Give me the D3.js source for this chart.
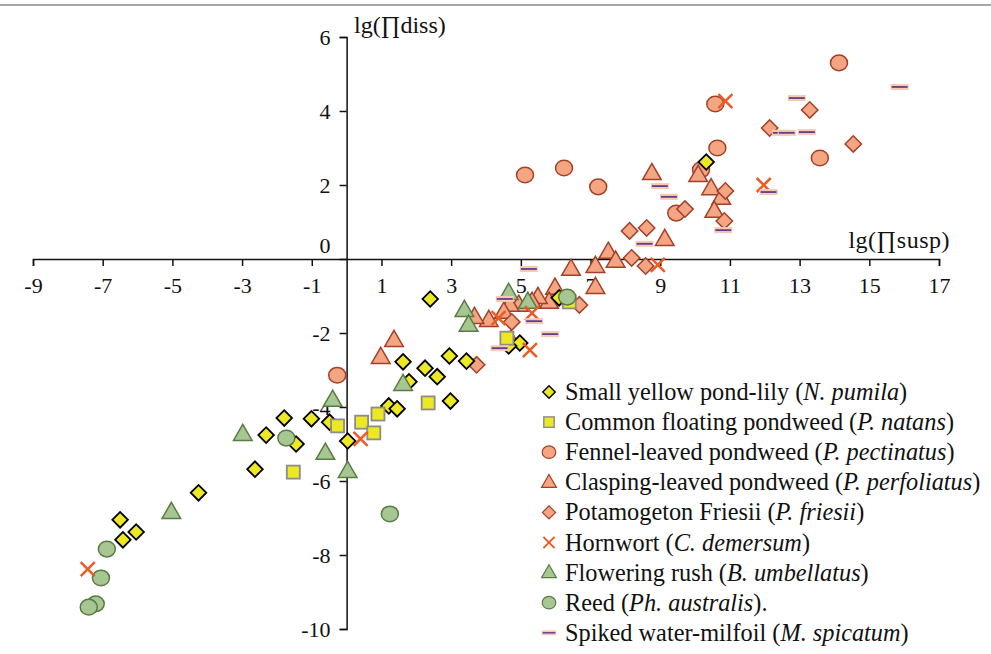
<!DOCTYPE html>
<html>
<head>
<meta charset="utf-8">
<script src="https://cdn.jsdelivr.net/npm/d3@7"></script>
<style>
  body { margin: 0; background: #fff; }
  svg text { font-family: "Liberation Serif", "Times New Roman", serif; fill: #111; }
</style>
</head>
<body>
<div id="main"></div>
<script>
// Data: [lg(Πsusp), lg(Πdiss)]
const pondLily = [[2.40,-1.08],[10.32,2.62],[4.97,-2.27],[4.65,-2.35],[6.10,-1.05],[1.62,-2.78],[2.25,-2.95],[2.60,-3.18],
  [2.95,-2.62],[3.44,-2.76],[1.79,-3.32],[2.98,-3.84],[1.21,-3.97],[1.45,-4.05],[0.03,-4.92],[-1.79,-4.30],[-1.01,-4.32],
  [-0.49,-4.41],[-2.31,-4.76],[-1.45,-5.00],[-2.63,-5.68],[-4.25,-6.32],[-6.50,-7.05],[-6.04,-7.38],[-6.42,-7.59]];
const floatingPondweed = [[4.60,-2.14],[2.34,-3.89],[0.90,-4.19],[0.43,-4.41],[0.78,-4.70],[-0.26,-4.51],[-1.53,-5.76],[6.39,-1.16]];
const fennelPondweed = [[5.12,2.27],[6.24,2.46],[7.22,1.95],[10.58,4.19],[10.64,3.00],[10.17,2.41],[9.46,1.24],[14.13,5.30],
  [13.58,2.73],[-0.27,-3.14]];
const claspingPondweed = [[8.76,2.32],[10.09,2.27],[10.46,1.91],[10.75,1.65],[10.55,1.30],[9.13,0.54],[7.51,0.19],[7.72,-0.05],
  [7.14,-0.19],[6.44,-0.27],[7.14,-0.76],[5.98,-0.78],[5.81,-1.16],[5.49,-1.03],[5.32,-1.16],[4.94,-1.24],[4.68,-1.24],
  [4.51,-1.43],[4.08,-1.65],[3.67,-1.57],[4.71,-2.19],[1.36,-2.19],[0.98,-2.65]];
const friesii = [[13.29,4.03],[12.14,3.54],[14.54,3.11],[10.87,1.84],[10.84,1.03],[9.71,1.35],[8.61,0.84],[8.12,0.76],
  [8.18,0.03],[8.58,-0.19],[6.68,-1.24],[4.74,-1.70],[3.73,-2.86]];
const hornwort = [[10.87,4.27],[11.97,2.00],[8.93,-0.16],[4.36,-1.60],[5.32,-1.46],[5.26,-2.46],[0.40,-4.86],[-7.43,-8.38]];
const floweringRush = [[4.65,-0.92],[5.20,-1.16],[3.38,-1.38],[3.50,-1.78],[1.62,-3.38],[-0.40,-3.81],[-2.98,-4.73],
  [-0.61,-5.24],[0.03,-5.73],[-5.03,-6.84]];
const reed = [[6.33,-1.03],[-1.73,-4.84],[1.24,-6.89],[-6.88,-7.84],[-7.05,-8.62],[-7.20,-9.32],[-7.40,-9.41]];
const waterMilfoil = [[15.87,4.65],[12.92,4.35],[12.46,3.41],[12.63,3.41],[13.21,3.43],[12.11,1.81],[10.81,0.78],[8.99,1.97],
  [9.25,1.68],[8.55,0.41],[5.23,-0.27],[4.54,-1.08],[5.38,-1.68],[5.84,-2.03],[4.39,-2.41]];

const xTicks = [-9,-7,-5,-3,-1,1,3,5,7,9,11,13,15,17];
const yTicks = [6,4,2,0,-2,-4,-6,-8,-10];

const legendItems = [
  ['Small yellow pond-lily (', 'N. pumila', ')', 'lily'],
  ['Common floating pondweed (', 'P. natans', ')', 'natans'],
  ['Fennel-leaved pondweed (', 'P. pectinatus', ')', 'fennel'],
  ['Clasping-leaved pondweed (', 'P. perfoliatus', ')', 'clasp'],
  ['Potamogeton Friesii (', 'P. friesii', ')', 'friesii'],
  ['Hornwort (', 'C. demersum', ')', 'horn'],
  ['Flowering rush (', 'B. umbellatus', ')', 'rush'],
  ['Reed (', 'Ph. australis', ').', 'reed'],
  ['Spiked water-milfoil (', 'M. spicatum', ')', 'milfoil']
];

const W = 991, H = 654;
const svg = d3.select('#main').append('svg').attr('width', W).attr('height', H);

svg.append('line').attr('x1', 0).attr('x2', W).attr('y1', 5).attr('y2', 5)
  .attr('stroke', '#8a8a8a').attr('stroke-width', 1.5);

const x = d3.scaleLinear().domain([-9, 17]).range([33, 939]);
const y = d3.scaleLinear().domain([-10, 6]).range([629, 37]);

// colours
const yellow = '#ece821', salmon = '#f4a582', brick = '#a3402a', green = '#a6c792', darkGreen = '#5b7b45', orange = '#f05a22';

// axes (hyphen minus like the original, not the unicode minus)
const xAxis = d3.axisBottom(x).tickValues(xTicks).tickSize(7).tickPadding(11).tickFormat(d => String(d));
const gx = svg.append('g').attr('transform', `translate(0,${y(0)})`).call(xAxis);
gx.selectAll('text').style('font-size', '22px');

const yAxis = d3.axisLeft(y).tickValues(yTicks).tickSize(7).tickPadding(9).tickFormat(d => String(d));
const gy = svg.append('g').attr('transform', `translate(${x(0)},0)`).call(yAxis);
gy.selectAll('text').style('font-size', '22px');
gy.selectAll('.tick').filter(d => d === 0).select('text').attr('dy', '-0.3em');

[gx, gy].forEach(g => {
  g.select('.domain').attr('stroke', '#111').attr('stroke-width', 1.5);
  g.selectAll('.tick line').attr('stroke', '#111').attr('stroke-width', 1.5);
});

svg.append('text').attr('x', 354).attr('y', 33).style('font-size', '24px').text('lg(∏diss)');
svg.append('text').attr('x', 950).attr('y', 248).attr('text-anchor', 'end').style('font-size', '24px')
  .attr('letter-spacing', '0.5px').text('lg(∏susp)');

// markers
function drawMarker(g, kind) {
  if (kind === 'lily') {
    g.append('rect').attr('x', -5.5).attr('y', -5.5).attr('width', 11).attr('height', 11)
      .attr('transform', 'rotate(45)').attr('fill', yellow).attr('stroke', '#000').attr('stroke-width', 1.8);
  } else if (kind === 'natans') {
    g.append('rect').attr('x', -6.5).attr('y', -6.5).attr('width', 13).attr('height', 13)
      .attr('fill', yellow).attr('stroke', '#8c8c8c').attr('stroke-width', 1.8);
  } else if (kind === 'fennel' || kind === 'reed') {
    g.append('ellipse').attr('rx', 8.5).attr('ry', 7.8)
      .attr('fill', kind === 'reed' ? green : salmon).attr('stroke', kind === 'reed' ? darkGreen : brick).attr('stroke-width', 1.5);
  } else if (kind === 'clasp' || kind === 'rush') {
    g.append('path').attr('d', d3.symbol(d3.symbolTriangle, 150)())
      .attr('transform', 'translate(0,1)')
      .attr('fill', kind === 'rush' ? green : salmon).attr('stroke', kind === 'rush' ? darkGreen : brick).attr('stroke-width', 1.5);
  } else if (kind === 'friesii') {
    g.append('rect').attr('x', -5.8).attr('y', -5.8).attr('width', 11.6).attr('height', 11.6)
      .attr('transform', 'rotate(45)').attr('fill', salmon).attr('stroke', brick).attr('stroke-width', 1.5);
  } else if (kind === 'horn') {
    g.append('path').attr('d', 'M-7,-7L7,7M-7,7L7,-7')
      .attr('fill', 'none').attr('stroke', orange).attr('stroke-width', 2.5);
  } else if (kind === 'milfoil') {
    g.append('rect').attr('x', -9).attr('y', -3).attr('width', 18).attr('height', 6).attr('fill', '#f9c9b1');
    g.append('line').attr('x1', -8).attr('x2', 8).attr('stroke', '#5e3f8f').attr('stroke-width', 1.8);
  }
}

const seriesOrder = [
  [fennelPondweed, 'fennel'], [claspingPondweed, 'clasp'], [friesii, 'friesii'],
  [pondLily, 'lily'], [floatingPondweed, 'natans'], [floweringRush, 'rush'],
  [reed, 'reed'], [hornwort, 'horn'], [waterMilfoil, 'milfoil']
];

seriesOrder.forEach(([data, kind]) => {
  svg.append('g').attr('class', 'series-' + kind)
    .selectAll('g')
    .data(data)
    .enter()
    .append('g')
    .attr('transform', d => `translate(${x(d[0])},${y(d[1])})`)
    .each(function () { drawMarker(d3.select(this), kind); });
});

// legend
const legend = svg.append('g').attr('transform', 'translate(549,392)');
legendItems.forEach((item, i) => {
  const row = legend.append('g').attr('transform', `translate(0,${i * 30.1})`);
  const m = row.append('g').attr('transform', 'scale(0.8)');
  drawMarker(m, item[3]);
  const t = row.append('text').attr('x', 16).attr('y', 8).style('font-size', '24.3px');
  t.append('tspan').text(item[0]);
  t.append('tspan').style('font-style', 'italic').text(item[1]);
  t.append('tspan').text(item[2]);
});
</script>
</body>
</html>
